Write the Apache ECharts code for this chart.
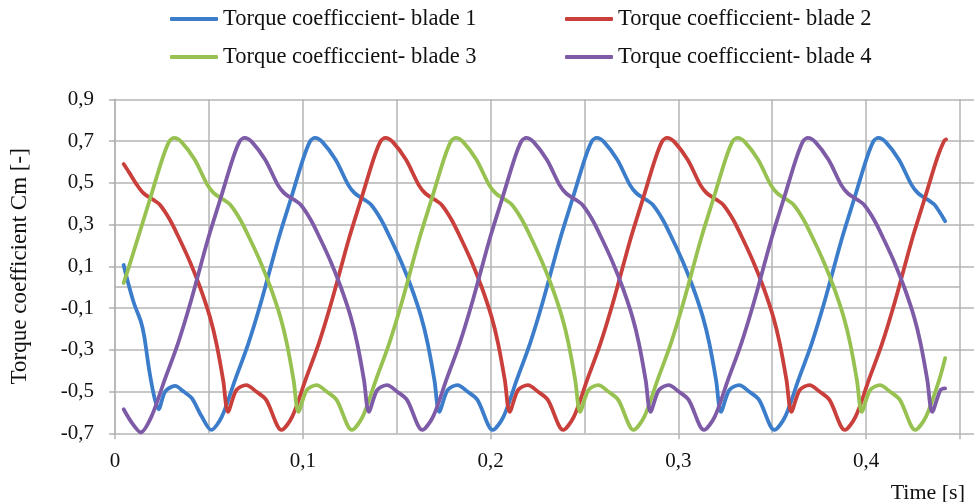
<!DOCTYPE html>
<html>
<head>
<meta charset="utf-8">
<script src="https://cdn.jsdelivr.net/npm/echarts@6/dist/echarts.min.js"></script>
<style>html,body{margin:0;padding:0;background:#fff}#c{width:974px;height:502px}</style>
</head>
<body>
<div id="c"></div>
<script>
const seriesNames = ['Torque coefficcient- blade 1','Torque coefficcient- blade 2','Torque coefficcient- blade 3','Torque coefficcient- blade 4'];
const xAxisTitle = 'Time [s]';
const yAxisTitle = 'Torque coefficient Cm [-]';
const xLabelValues = [0, 0.1, 0.2, 0.3, 0.4];

const blade1 = [[0.0046,0.106],[0.0066,0.034],[0.0101,-0.077],[0.0138,-0.165],[0.0156,-0.237],[0.0182,-0.397],[0.0209,-0.525],[0.0232,-0.585],[0.0267,-0.50],[0.0320,-0.473],[0.0365,-0.50],[0.0409,-0.532],[0.0462,-0.62],[0.0512,-0.684],
[0.0569,-0.62],[0.0639,-0.445],[0.0710,-0.27],[0.0781,-0.061],[0.0870,0.23],[0.0940,0.433],[0.1003,0.617],[0.1040,0.70],[0.1065,0.715],[0.1105,0.695],[0.1175,0.61],[0.1242,0.49],[0.1277,0.45],[0.1330,0.418],[0.1365,0.394],[0.1418,0.322],[0.1471,0.226],[0.1524,0.122],[0.1577,0.002],[0.1630,-0.141],[0.1665,-0.269],[0.1701,-0.445],[0.1727,-0.597],[0.1771,-0.493],[0.1824,-0.469],[0.1877,-0.50],[0.1930,-0.54],[0.2012,-0.684],
[0.2069,-0.62],[0.2139,-0.445],[0.2210,-0.27],[0.2281,-0.061],[0.2370,0.23],[0.2440,0.433],[0.2503,0.617],[0.2540,0.70],[0.2565,0.715],[0.2605,0.695],[0.2675,0.61],[0.2742,0.49],[0.2777,0.45],[0.2830,0.418],[0.2865,0.394],[0.2918,0.322],[0.2971,0.226],[0.3024,0.122],[0.3077,0.002],[0.3130,-0.141],[0.3165,-0.269],[0.3201,-0.445],[0.3227,-0.597],[0.3271,-0.493],[0.3324,-0.469],[0.3377,-0.50],[0.3430,-0.54],[0.3512,-0.684],
[0.3569,-0.62],[0.3639,-0.445],[0.3710,-0.27],[0.3781,-0.061],[0.3870,0.23],[0.3940,0.433],[0.4003,0.617],[0.4040,0.70],[0.4065,0.715],[0.4105,0.695],[0.4175,0.61],[0.4242,0.49],[0.4277,0.45],[0.4330,0.418],[0.4365,0.394],[0.4421,0.316]];

const blade2 = [[0.0046,0.59],[0.0075,0.55],[0.0117,0.49],[0.0152,0.45],[0.0205,0.418],[0.0240,0.394],[0.0293,0.322],[0.0346,0.226],[0.0399,0.122],[0.0452,0.002],[0.0505,-0.141],[0.0540,-0.269],[0.0576,-0.445],[0.0602,-0.597],[0.0646,-0.493],[0.0699,-0.469],[0.0752,-0.50],[0.0805,-0.54],[0.0887,-0.684],
[0.0944,-0.62],[0.1014,-0.445],[0.1085,-0.27],[0.1156,-0.061],[0.1245,0.23],[0.1315,0.433],[0.1378,0.617],[0.1415,0.70],[0.1440,0.715],[0.1480,0.695],[0.1550,0.61],[0.1617,0.49],[0.1652,0.45],[0.1705,0.418],[0.1740,0.394],[0.1793,0.322],[0.1846,0.226],[0.1899,0.122],[0.1952,0.002],[0.2005,-0.141],[0.2040,-0.269],[0.2076,-0.445],[0.2102,-0.597],[0.2146,-0.493],[0.2199,-0.469],[0.2252,-0.50],[0.2305,-0.54],[0.2387,-0.684],
[0.2444,-0.62],[0.2514,-0.445],[0.2585,-0.27],[0.2656,-0.061],[0.2745,0.23],[0.2815,0.433],[0.2878,0.617],[0.2915,0.70],[0.2940,0.715],[0.2980,0.695],[0.3050,0.61],[0.3117,0.49],[0.3152,0.45],[0.3205,0.418],[0.3240,0.394],[0.3293,0.322],[0.3346,0.226],[0.3399,0.122],[0.3452,0.002],[0.3505,-0.141],[0.3540,-0.269],[0.3576,-0.445],[0.3602,-0.597],[0.3646,-0.493],[0.3699,-0.469],[0.3752,-0.50],[0.3805,-0.54],[0.3887,-0.684],
[0.3944,-0.62],[0.4014,-0.445],[0.4085,-0.27],[0.4156,-0.061],[0.4245,0.23],[0.4315,0.433],[0.4378,0.617],[0.4415,0.70],[0.4426,0.708]];

const blade3 = [[0.0046,0.02],[0.0075,0.10],[0.0120,0.23],[0.0190,0.433],[0.0253,0.617],[0.0290,0.70],[0.0315,0.715],[0.0355,0.695],[0.0425,0.61],[0.0492,0.49],[0.0527,0.45],[0.0580,0.418],[0.0615,0.394],[0.0668,0.322],[0.0721,0.226],[0.0774,0.122],[0.0827,0.002],[0.0880,-0.141],[0.0915,-0.269],[0.0951,-0.445],[0.0977,-0.597],[0.1021,-0.493],[0.1074,-0.469],[0.1127,-0.50],[0.1180,-0.54],[0.1262,-0.684],
[0.1319,-0.62],[0.1389,-0.445],[0.1460,-0.27],[0.1531,-0.061],[0.1620,0.23],[0.1690,0.433],[0.1753,0.617],[0.1790,0.70],[0.1815,0.715],[0.1855,0.695],[0.1925,0.61],[0.1992,0.49],[0.2027,0.45],[0.2080,0.418],[0.2115,0.394],[0.2168,0.322],[0.2221,0.226],[0.2274,0.122],[0.2327,0.002],[0.2380,-0.141],[0.2415,-0.269],[0.2451,-0.445],[0.2477,-0.597],[0.2521,-0.493],[0.2574,-0.469],[0.2627,-0.50],[0.2680,-0.54],[0.2762,-0.684],
[0.2819,-0.62],[0.2889,-0.445],[0.2960,-0.27],[0.3031,-0.061],[0.3120,0.23],[0.3190,0.433],[0.3253,0.617],[0.3290,0.70],[0.3315,0.715],[0.3355,0.695],[0.3425,0.61],[0.3492,0.49],[0.3527,0.45],[0.3580,0.418],[0.3615,0.394],[0.3668,0.322],[0.3721,0.226],[0.3774,0.122],[0.3827,0.002],[0.3880,-0.141],[0.3915,-0.269],[0.3951,-0.445],[0.3977,-0.597],[0.4021,-0.493],[0.4074,-0.469],[0.4127,-0.50],[0.4180,-0.54],[0.4262,-0.684],
[0.4319,-0.62],[0.4389,-0.445],[0.4421,-0.34]];

const blade4 = [[0.0046,-0.585],[0.0090,-0.65],[0.0137,-0.695],
[0.0194,-0.62],[0.0264,-0.445],[0.0335,-0.27],[0.0406,-0.061],[0.0495,0.23],[0.0565,0.433],[0.0628,0.617],[0.0665,0.70],[0.0690,0.715],[0.0730,0.695],[0.0800,0.61],[0.0867,0.49],[0.0902,0.45],[0.0955,0.418],[0.0990,0.394],[0.1043,0.322],[0.1096,0.226],[0.1149,0.122],[0.1202,0.002],[0.1255,-0.141],[0.1290,-0.269],[0.1326,-0.445],[0.1352,-0.597],[0.1396,-0.493],[0.1449,-0.469],[0.1502,-0.50],[0.1555,-0.54],[0.1637,-0.684],
[0.1694,-0.62],[0.1764,-0.445],[0.1835,-0.27],[0.1906,-0.061],[0.1995,0.23],[0.2065,0.433],[0.2128,0.617],[0.2165,0.70],[0.2190,0.715],[0.2230,0.695],[0.2300,0.61],[0.2367,0.49],[0.2402,0.45],[0.2455,0.418],[0.2490,0.394],[0.2543,0.322],[0.2596,0.226],[0.2649,0.122],[0.2702,0.002],[0.2755,-0.141],[0.2790,-0.269],[0.2826,-0.445],[0.2852,-0.597],[0.2896,-0.493],[0.2949,-0.469],[0.3002,-0.50],[0.3055,-0.54],[0.3137,-0.684],
[0.3194,-0.62],[0.3264,-0.445],[0.3335,-0.27],[0.3406,-0.061],[0.3495,0.23],[0.3565,0.433],[0.3628,0.617],[0.3665,0.70],[0.3690,0.715],[0.3730,0.695],[0.3800,0.61],[0.3867,0.49],[0.3902,0.45],[0.3955,0.418],[0.3990,0.394],[0.4043,0.322],[0.4096,0.226],[0.4149,0.122],[0.4202,0.002],[0.4255,-0.141],[0.4290,-0.269],[0.4326,-0.445],[0.4352,-0.597],[0.4396,-0.493],[0.4421,-0.485]];

const colors = ['#3B7DCA', '#C93F3B', '#97C251', '#7E5BA7'];
const FONT = '"Liberation Serif", "Times New Roman", serif';
const GRID_C = '#B4B4B4';
const fmt = v => (Math.abs(v) < 1e-9 ? '0' : v.toFixed(1).replace('.', ','));

const chart = echarts.init(document.getElementById('c'), null, {renderer: 'canvas'});
const datas = [blade1, blade2, blade3, blade4];
const legendPos = [[170, 7], [565, 7], [170, 45], [565, 45]];

chart.setOption({
  animation: false,
  backgroundColor: '#fff',
  textStyle: {fontFamily: FONT},
  color: colors,
  title: {
    text: xAxisTitle, right: 9, top: 481, padding: 0,
    textStyle: {fontFamily: FONT, fontSize: 22, fontWeight: 'normal', color: '#111', lineHeight: 24}
  },
  legend: seriesNames.map((n, i) => ({
    data: [n], left: legendPos[i][0], top: legendPos[i][1], padding: 0,
    itemWidth: 48, itemHeight: 4, icon: 'roundRect',
    textStyle: {fontFamily: FONT, fontSize: 22.5, color: '#111', lineHeight: 24}
  })),
  grid: [
    {left: 113, right: 14, top: 99.3, bottom: 68.7, containLabel: false},
    {left: 113, right: 0, top: 99.3, bottom: 68.7, containLabel: false, z: 0}
  ],
  xAxis: [{
    gridIndex: 0, type: 'value', min: 0, max: 0.45, interval: 0.05,
    axisLine: {show: true, lineStyle: {color: GRID_C, width: 1.5}},
    axisTick: {show: false},
    splitLine: {show: true, lineStyle: {color: GRID_C, width: 1.5}},
    axisLabel: {
      margin: 18, fontFamily: FONT, fontSize: 21, color: '#111',
      formatter: v => { const r = Math.round(v * 10) / 10; return (xLabelValues.some(x => Math.abs(x - v) < 1e-6)) ? fmt(r) : ''; }
    }
  }, {
    gridIndex: 0, type: 'value', min: 0, max: 0.45, interval: 0.1, position: 'bottom',
    axisLine: {show: false},
    axisTick: {show: true, length: 6, lineStyle: {color: GRID_C, width: 1.5}},
    splitLine: {show: false},
    axisLabel: {show: false}
  }, {
    gridIndex: 1, type: 'value', min: 0, max: 0.45, show: false
  }],
  yAxis: [{
    gridIndex: 0, type: 'value', min: -0.7, max: 0.9, interval: 0.2,
    name: yAxisTitle, nameLocation: 'middle', nameRotate: 90, nameGap: 84,
    nameTextStyle: {fontFamily: FONT, fontSize: 23, color: '#111'},
    axisLine: {show: true, lineStyle: {color: GRID_C, width: 1.5}},
    axisTick: {show: true, length: 6, lineStyle: {color: GRID_C, width: 1.5}},
    splitLine: {show: false},
    axisLabel: {margin: 21, fontFamily: FONT, fontSize: 21, color: '#111', formatter: v => fmt(v)}
  }, {
    gridIndex: 1, type: 'value', min: -0.7, max: 0.9, interval: 0.2,
    axisLine: {show: false}, axisTick: {show: false}, axisLabel: {show: false},
    splitLine: {show: true, lineStyle: {color: GRID_C, width: 1.5}}
  }],
  series: datas.map((d, i) => ({
    name: seriesNames[i], type: 'line', data: d, xAxisIndex: 0, yAxisIndex: 0,
    showSymbol: false, smooth: 0.3, z: 3,
    lineStyle: {width: 3.8, color: colors[i], cap: 'round', join: 'round'},
    itemStyle: {color: colors[i]}
  }))
});
</script>
</body>
</html>
